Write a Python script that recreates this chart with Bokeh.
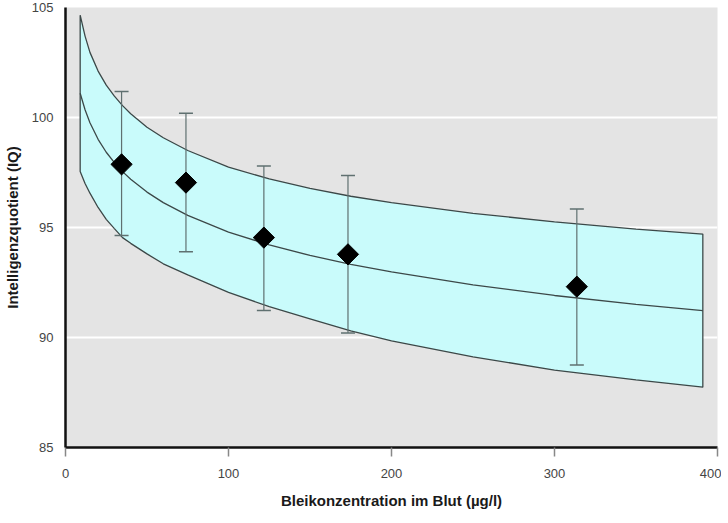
import numpy as np
from bokeh.plotting import figure
from bokeh.models import Range1d, ColumnDataSource, FixedTicker
from bokeh.embed import file_html
from bokeh.resources import INLINE

# Curve data
curve_x = [9, 12, 15, 20, 25, 30, 35, 40, 50, 60, 75, 100, 125, 150, 175, 200, 250, 300, 350, 391]
mean_iq = [101.1, 100.35, 99.76, 99.01, 98.42, 97.95, 97.54, 97.19, 96.61, 96.13, 95.55, 94.79,
           94.21, 93.73, 93.32, 92.98, 92.39, 91.91, 91.51, 91.22]
upper_iq = [104.65, 103.7, 102.96, 102.11, 101.47, 100.97, 100.54, 100.17, 99.56, 99.08, 98.5,
            97.74, 97.21, 96.78, 96.42, 96.13, 95.64, 95.26, 94.93, 94.70]
lower_iq = [97.55, 97.0, 96.56, 95.91, 95.37, 94.95, 94.54, 94.28, 93.8, 93.35, 92.85, 92.05,
            91.4, 90.85, 90.3, 89.85, 89.12, 88.52, 88.07, 87.74]

# Measured points with error bars
pt_x = [34.4, 73.9, 121.7, 173.3, 313.7]
pt_y = [97.87, 97.04, 94.54, 93.78, 92.31]
pt_hi = [101.18, 100.19, 97.79, 97.36, 95.84]
pt_lo = [94.64, 93.9, 91.23, 90.21, 88.75]

x_ticks = [0, 100, 200, 300, 400]
y_ticks = [85, 90, 95, 100, 105]

p = figure(frame_width=652, frame_height=440, output_backend="svg", toolbar_location=None,
           x_range=Range1d(0, 400), y_range=Range1d(85, 105),
           min_border_left=57, min_border_right=4, min_border_top=7, min_border_bottom=60)
p.background_fill_color = "#e4e4e4"
p.border_fill_color = "white"
p.outline_line_color = None

# band
band_x = curve_x + curve_x[::-1]
band_y = upper_iq + lower_iq[::-1]
p.patch(band_x, band_y, fill_color="#c9fbfb", line_color="#3c4848", line_width=1.3)
p.line(curve_x, mean_iq, line_color="#3c4848", line_width=1.3)

src = ColumnDataSource(dict(x=pt_x, y=pt_y, hi=pt_hi, lo=pt_lo))
err_col = "#5f7070"
p.segment(x0="x", y0="lo", x1="x", y1="hi", source=src, line_color=err_col, line_width=1.2)
p.scatter("x", "hi", source=src, marker="dash", size=14, line_color=err_col, line_width=1.5)
p.scatter("x", "lo", source=src, marker="dash", size=14, line_color=err_col, line_width=1.5)
p.scatter("x", "y", source=src, marker="square", size=15, angle=np.pi / 4,
          fill_color="black", line_color="black")

# grid
p.xgrid.grid_line_color = None
p.ygrid.grid_line_color = "white"
p.ygrid.grid_line_width = 2
p.ygrid.ticker = FixedTicker(ticks=y_ticks)

# axes
font = "Liberation Sans"
p.xaxis.ticker = FixedTicker(ticks=x_ticks)
p.yaxis.ticker = FixedTicker(ticks=y_ticks)
p.xaxis.axis_label = "Bleikonzentration im Blut (µg/l)"
p.yaxis.axis_label = "Intelligenzquotient (IQ)"
for ax in (p.xaxis, p.yaxis):
    ax.axis_line_color = "#111111"
    ax.axis_line_width = 2.5
    ax.major_label_text_font = font
    ax.major_label_text_font_size = "13px"
    ax.major_label_text_color = "#444444"
    ax.axis_label_text_font = font
    ax.axis_label_text_font_size = "15px"
    ax.axis_label_text_font_style = "bold"
    ax.axis_label_text_color = "#1a1a1a"
    ax.minor_tick_line_color = None
p.xaxis.major_tick_line_color = "#888888"
p.xaxis.major_tick_line_width = 1.5
p.xaxis.major_tick_in = 0
p.xaxis.major_tick_out = 9
p.xaxis.major_label_standoff = 12
p.xaxis.axis_label_standoff = 11
p.yaxis.major_tick_line_color = None
p.yaxis.major_label_standoff = 6
p.yaxis.axis_label_standoff = 8

open("out.html", "w").write(file_html(p, INLINE))
